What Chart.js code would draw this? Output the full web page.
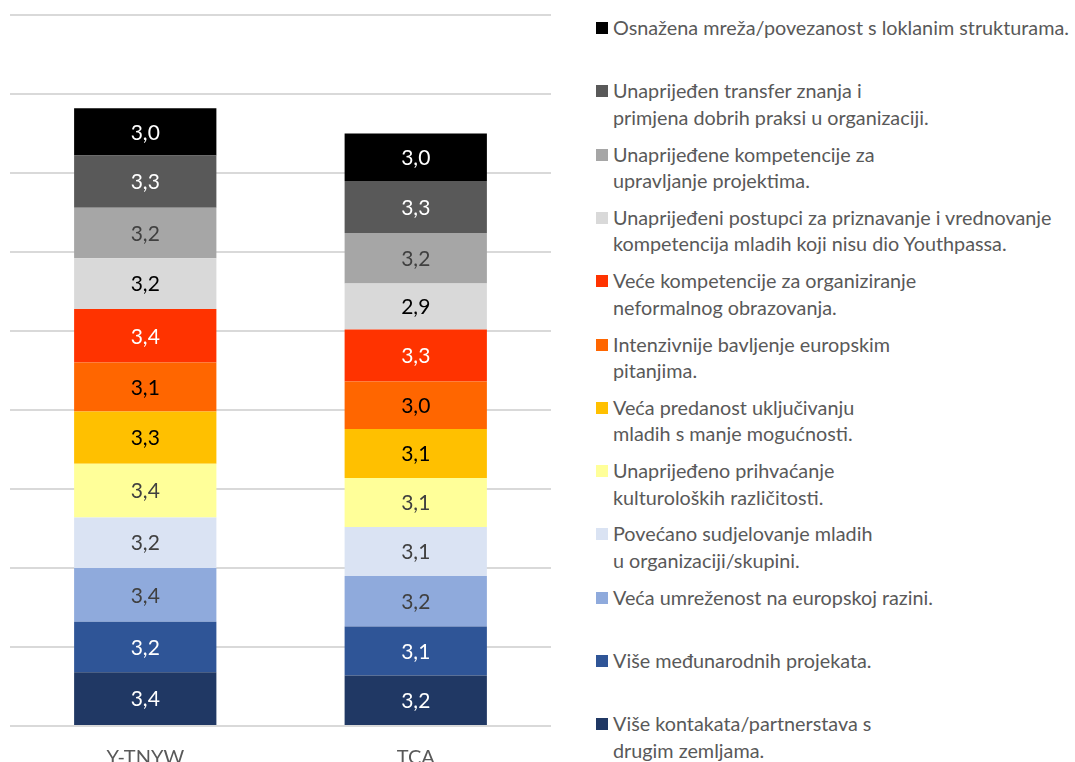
<!DOCTYPE html>
<html>
<head>
<meta charset="utf-8">
<script src="https://cdn.jsdelivr.net/npm/chart.js@4.4.0/dist/chart.umd.min.js"></script>
<style>
  html, body { margin: 0; padding: 0; background: #fff; overflow: hidden; }
  #wrap { position: relative; width: 1075px; height: 762px; }
  #chart { position: absolute; left: 0; top: 0; }
  #legend { position: absolute; left: 596px; top: 0; font-family: Lato, sans-serif; font-size: 19.8px; color: #595959; }
  .item { position: absolute; left: 0; white-space: pre; line-height: 26.5px; padding-left: 17px; }
  .item i { position: absolute; left: 0; top: 8px; width: 12px; height: 12px; }
</style>
</head>
<body>
<div id="wrap">
  <canvas id="chart" width="560" height="762"></canvas>
  <div id="legend"></div>
</div>
<script>
// kategorije i vrijednosti (od dna stupca prema vrhu)
const categories = ["Y-TNYW", "TCA"]

const seriesNames = [
  "Više kontakata/partnerstava s\ndrugim zemljama.",
  "Više međunarodnih projekata.",
  "Veća umreženost na europskoj razini.",
  "Povećano sudjelovanje mladih\nu organizaciji/skupini.",
  "Unaprijeđeno prihvaćanje\nkulturoloških različitosti.",
  "Veća predanost uključivanju\nmladih s manje mogućnosti.",
  "Intenzivnije bavljenje europskim\npitanjima.",
  "Veće kompetencije za organiziranje\nneformalnog obrazovanja.",
  "Unaprijeđeni postupci za priznavanje i vrednovanje\nkompetencija mladih koji nisu dio Youthpassa.",
  "Unaprijeđene kompetencije za\nupravljanje projektima.",
  "Unaprijeđen transfer znanja i\nprimjena dobrih praksi u organizaciji.",
  "Osnažena mreža/povezanost s loklanim strukturama.",
]

const valuesYTNYW = [3.4, 3.2, 3.4, 3.2, 3.4, 3.3, 3.1, 3.4, 3.2, 3.2, 3.3, 3.0]
const valuesTCA   = [3.2, 3.1, 3.2, 3.1, 3.1, 3.1, 3.0, 3.3, 2.9, 3.2, 3.3, 3.0]

const yTicks = [0, 5, 10, 15, 20, 25, 30, 35, 40, 45]

const colors = [
  "#203864", "#2F5597", "#8FAADC", "#DAE3F3", "#FFFF99", "#FFC000",
  "#FF6600", "#FF3300", "#D9D9D9", "#A6A6A6", "#595959", "#000000",
]
const labelColors = [
  "#ffffff", "#ffffff", "#404040", "#404040", "#404040", "#000000",
  "#000000", "#ffffff", "#000000", "#404040", "#ffffff", "#ffffff",
]

const datasets = seriesNames.map((name, i) => ({
  label: name.replace("\n", " "),
  data: [valuesYTNYW[i], valuesTCA[i]],
  backgroundColor: colors[i],
  borderWidth: 0,
  categoryPercentage: 1,
  barPercentage: 0.526,
}))

// brojevi u sredini svakog segmenta, decimalni zarez
const valueLabels = {
  id: "valueLabels",
  afterDatasetsDraw(chart) {
    const ctx = chart.ctx
    ctx.save()
    ctx.font = "21px Lato, sans-serif"
    ctx.textAlign = "center"
    ctx.textBaseline = "middle"
    chart.data.datasets.forEach((ds, i) => {
      chart.getDatasetMeta(i).data.forEach((bar, j) => {
        const v = ds.data[j]
        ctx.fillStyle = labelColors[i]
        ctx.fillText(v.toFixed(1).replace(".", ","), bar.x, (bar.y + bar.base) / 2 + 1)
      })
    })
    ctx.restore()
  }
}

const ctxChart = document.querySelector("#chart").getContext("2d")
const chart = new Chart(ctxChart, {
  type: "bar",
  data: { labels: categories, datasets: datasets },
  options: {
    responsive: false,
    animation: false,
    layout: { padding: { left: 10, right: 9, top: 15, bottom: 0 } },
    plugins: { legend: { display: false }, tooltip: { enabled: false } },
    scales: {
      x: {
        stacked: true,
        grid: { display: false },
        border: { display: false },
        ticks: { color: "#595959", font: { family: "Lato", size: 20 }, padding: 12 },
        afterFit(scale) { scale.height = 36 },
      },
      y: {
        stacked: true,
        min: 0,
        max: 45,
        afterBuildTicks(scale) { scale.ticks = yTicks.map(v => ({ value: v })) },
        ticks: { display: false },
        grid: { color: "#D9D9D9", lineWidth: 2, drawTicks: false },
        border: { display: false },
        afterFit(scale) { scale.width = 0 },
      },
    },
  },
  plugins: [valueLabels],
})

// legenda s desne strane, od vrha prema dnu
const legend = document.querySelector("#legend")
for (let k = 0; k < seriesNames.length; k++) {
  const i = seriesNames.length - 1 - k
  const item = document.createElement("div")
  item.className = "item"
  item.style.top = (14 + k * 63.3) + "px"
  item.textContent = seriesNames[i]
  const box = document.createElement("i")
  box.style.background = colors[i]
  item.prepend(box)
  legend.appendChild(item)
}
</script>
</body>
</html>
